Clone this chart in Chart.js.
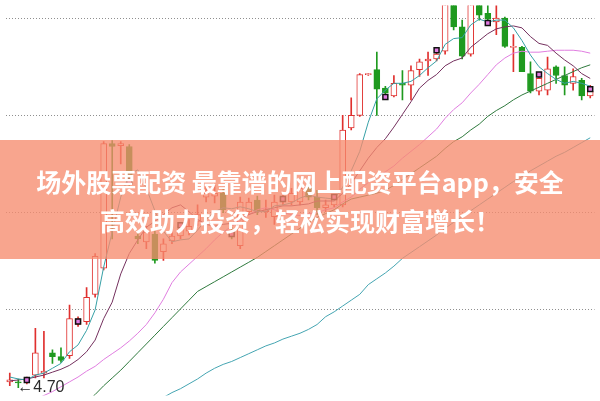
<!DOCTYPE html>
<html><head><meta charset="utf-8">
<script src="https://cdn.jsdelivr.net/npm/chart.js@4/dist/chart.umd.min.js"></script>
<style>
html,body{margin:0;padding:0;background:#fff;}
#wrap{position:relative;width:600px;height:401px;overflow:hidden;background:#fff;}
#c{position:absolute;left:0;top:0;}
#banner{position:absolute;left:0;top:140px;width:600px;height:119px;background:rgba(246,140,110,0.78);}
.t{position:absolute;left:0;width:600px;text-align:center;color:#fff;font-family:"Noto Sans CJK SC","Noto Sans",sans-serif;font-weight:700;font-size:25px;line-height:30px;white-space:nowrap;}
</style></head><body>
<div id="wrap"><canvas id="c" width="600" height="401"></canvas>
<div id="banner"><div class="t" style="top:26px">场外股票配资 最靠谱的网上配资平台app，安全</div><div class="t" style="top:65px">高效助力投资，轻松实现财富增长！</div></div></div>
<script>
const labels = ['1','2','3','4','5','6','7','8','9','10','11','12','13','14','15','16','17','18','19','20','21','22','23','24','25','26','27','28','29','30','31','32','33','34','35','36','37','38','39','40','41','42','43','44','45','46','47','48','49','50','51','52','53','54','55','56','57','58','59','60','61','62','63','64','65','66','67','68','69'];
const open = [4.76,4.76,4.77,4.83,4.85,5.06,5.02,5.03,5.35,5.38, 5.66,5.93,7.21,7.19,7.18,6.26,6.20,6.28,6.10,6.21, 6.26,6.31,6.41,6.66,6.67,6.70,6.31,6.16,6.51,6.63, 6.51,6.46,6.61,6.61,6.61,6.76,6.66,6.55,6.58,6.58, 7.37,7.50,7.92,7.97,7.78,7.70,7.83,7.81,7.97,8.06, 8.08,8.16,8.73,8.41,8.13,8.73,8.55,8.46,8.50,8.20, 8.20,7.93,7.75,7.76,8.00,7.91,7.83,7.86,7.70];
const high = [4.85,4.79,4.81,5.31,5.28,5.09,5.11,5.55,5.43,5.73, 6.08,7.23,7.24,7.23,7.20,6.31,6.36,6.31,6.23,6.33, 6.38,6.43,6.58,6.78,6.78,6.75,6.35,6.66,6.65,6.67, 6.63,6.68,6.70,6.75,6.80,6.80,6.73,6.63,6.68,7.50, 7.68,7.93,7.93,8.15,7.80,7.91,7.96,8.01,8.08,8.15, 8.18,9.03,8.93,8.48,8.93,8.83,8.68,8.73,8.51,8.33, 8.21,8.05,7.89,8.10,8.01,8.00,7.98,7.88,7.81];
const low = [4.72,4.70,4.74,4.80,4.80,4.95,4.96,5.00,5.33,5.35, 5.63,5.91,6.23,7.00,6.78,6.18,6.13,5.98,6.01,6.18, 6.23,6.27,6.37,6.61,6.60,6.50,6.23,6.13,6.48,6.48, 6.45,6.38,6.58,6.58,6.58,6.63,6.48,6.51,6.56,6.56, 7.35,7.49,7.91,7.50,7.71,7.69,7.66,7.66,7.90,7.91, 8.06,8.13,8.38,8.08,8.11,8.48,8.47,8.33,8.20,7.95, 7.95,7.73,7.71,7.71,7.83,7.71,7.76,7.66,7.68];
const close = [4.78,4.75,4.79,5.06,4.87,5.02,4.98,5.41,5.41,5.63, 6.05,7.21,7.18,7.21,6.85,6.23,6.30,6.01,6.18,6.26, 6.33,6.36,6.48,6.70,6.70,6.53,6.27,6.61,6.61,6.51, 6.53,6.61,6.66,6.70,6.75,6.66,6.55,6.58,6.65,7.35, 7.50,7.92,7.92,7.77,7.73,7.83,7.81,7.96,8.05,8.08, 8.13,8.83,8.41,8.11,8.78,8.53,8.49,8.50,8.21,8.21, 7.95,7.75,7.88,7.98,7.91,7.81,7.90,7.70,7.75];
const ma5 = [4.81,4.79,4.78,4.83,4.85,4.90,4.95,5.07,5.14,5.29, 5.50,5.94,6.30,6.66,6.90,6.94,6.75,6.52,6.31,6.20, 6.22,6.23,6.32,6.43,6.51,6.55,6.54,6.56,6.54,6.51, 6.51,6.57,6.58,6.60,6.65,6.68,6.66,6.65,6.64,6.76, 6.93,7.13,7.43,7.67,7.76,7.83,7.83,7.85,7.91,7.99, 8.06,8.23,8.29,8.30,8.43,8.49,8.46,8.48,8.48,8.40, 8.27,8.12,8.00,7.93,7.87,7.83,7.85,7.83,7.80];
const ma10 = [4.77,4.78,4.79,4.81,4.83,4.86,4.89,4.93,4.99,5.07, 5.19,5.41,5.58,5.87,6.08,6.22,6.35,6.41,6.48,6.55, 6.58,6.51,6.43,6.38,6.36,6.38,6.39,6.44,6.48,6.51, 6.53,6.55,6.57,6.57,6.58,6.59,6.62,6.62,6.62,6.70, 6.80,6.93,7.06,7.17,7.26,7.38,7.51,7.64,7.78,7.86, 7.92,8.01,8.06,8.09,8.20,8.27,8.34,8.39,8.41,8.42, 8.40,8.31,8.24,8.22,8.14,8.07,8.01,7.93,7.88];
const ma20 = [4.51,4.53,4.56,4.58,4.62,4.66,4.71,4.76,4.81,4.87, 4.92,4.99,5.05,5.11,5.18,5.26,5.35,5.47,5.61,5.78, 5.89,5.97,6.05,6.13,6.22,6.30,6.36,6.42,6.48,6.53, 6.55,6.53,6.50,6.48,6.47,6.49,6.50,6.53,6.55,6.61, 6.66,6.74,6.81,6.87,6.92,6.98,7.06,7.13,7.20,7.28, 7.36,7.47,7.56,7.63,7.73,7.82,7.92,8.02,8.09,8.14, 8.16,8.15,8.15,8.16,8.17,8.17,8.17,8.16,8.14];
const ma30 = [null,null,null,null,null,null,null,null,null,4.55, 4.63,4.72,4.80,4.88,4.97,5.06,5.15,5.24,5.33,5.42, 5.51,5.60,5.69,5.74,5.79,5.84,5.89,5.94,5.99,6.04, 6.10,6.16,6.22,6.28,6.34,6.40,6.45,6.49,6.53,6.59, 6.64,6.66,6.68,6.70,6.73,6.78,6.84,6.90,6.96,7.02, 7.08,7.16,7.23,7.28,7.35,7.41,7.49,7.55,7.60,7.66, 7.71,7.75,7.79,7.83,7.87,7.91,7.95,7.99,8.02];
const ma60 = [null,null,null,null,null,null,null,null,null,null, null,null,null,null,null,null,null,4.55,4.60,4.65, 4.69,4.74,4.79,4.85,4.90,4.94,4.97,5.01,5.05,5.09, 5.13,5.16,5.20,5.23,5.26,5.30,5.35,5.43,5.48,5.54, 5.60,5.66,5.76,5.82,5.88,5.95,6.03,6.09,6.15,6.21, 6.27,6.34,6.40,6.46,6.52,6.58,6.64,6.70,6.76,6.82, 6.87,6.93,6.98,7.03,7.08,7.12,7.17,7.22,7.27];
const markerIdx = [2,8,14,20,26,32,38,44,50,56,62,68];
const markerVal = [4.78,5.38,6.82,6.37,6.28,6.64,6.66,7.69,8.17,8.45,7.92,7.77];
const gridTicks = [5.5,6.5,7.5,8.5];

const UP = '#e0302e', DOWN = '#1f9a1f';
const isUp = close.map((c,i)=>c>=open[i]);
const marks = labels.map(()=>null);
markerIdx.forEach((k,j)=>{marks[k]=markerVal[j];});

const lowLabel = {
  id:'lowLabel',
  afterDatasetsDraw(chart){
    const m = Math.min(...low);
    const i = low.indexOf(m);
    const x = chart.scales.x.getPixelForValue(i);
    const y = chart.scales.y.getPixelForValue(m);
    const c = chart.ctx;
    c.save();
    c.font = '16px "Liberation Sans", "DejaVu Sans", Arial';
    c.fillStyle = '#2a2a2a';
    c.textBaseline = 'middle';
    c.fillText('\u2190' + m.toFixed(2), x - 1, y);
    c.restore();
  }
};

function maLine(label, data, color){
  return {type:'line', label, data, borderColor:color, borderWidth:1, pointRadius:0, tension:0, fill:false, order:1};
}

new Chart(document.getElementById('c'), {
  type:'bar',
  data:{
    labels,
    datasets:[
      maLine('MA5', ma5, '#36a0a6'),
      maLine('MA10', ma10, '#74305e'),
      maLine('MA20', ma20, '#e07ee0'),
      maLine('MA30', ma30, '#2f7a3e'),
      maLine('MA60', ma60, '#45a5b2'),
      {label:'body', data: open.map((o,i)=>[o, close[i]]),
        backgroundColor: isUp.map(u=>u?'#ffffff':DOWN),
        borderColor: isUp.map(u=>u?UP:DOWN),
        borderWidth:1, borderSkipped:false, barThickness:6, grouped:false, minBarLength:1, order:5},
      {label:'wick', data: low.map((l,i)=>[l, high[i]]),
        backgroundColor: isUp.map(u=>u?UP:DOWN),
        borderWidth:0, barThickness:1, grouped:false, order:6},
      {type:'line', label:'mark', data: marks, showLine:false, pointStyle:'rect', pointRadius:3.5,
        pointBackgroundColor:'#e27ae2', pointBorderColor:'#111111', pointBorderWidth:1.5, order:0}
    ]
  },
  options:{
    responsive:false, animation:false, events:[],
    layout:{padding:0},
    plugins:{legend:{display:false}, tooltip:{enabled:false}},
    scales:{
      x:{display:false, offset:true},
      y:{min:4.62, max:8.63,
        afterBuildTicks:(s)=>{ s.ticks = gridTicks.map(v=>({value:v})); },
        ticks:{display:false},
        grid:{color:'#8f8f8f', drawTicks:false, lineWidth:1},
        border:{display:false, dash:[1,2]}
      }
    }
  },
  plugins:[lowLabel]
});
</script>
</body></html>
